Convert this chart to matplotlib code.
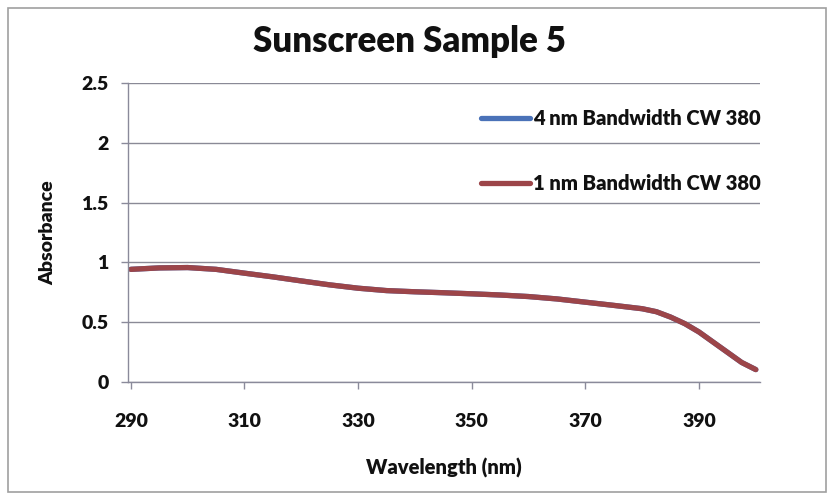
import matplotlib.pyplot as plt
from matplotlib.patches import Rectangle

# absorbance readings
wavelength = [290, 295, 300, 305, 310, 315, 320, 325, 330, 335, 340, 345,
              350, 355, 360, 365, 370, 375, 380, 382.5, 385, 387.5, 390,
              392.5, 395, 397.5, 400]
abs_4nm = [0.94, 0.952, 0.955, 0.94, 0.908, 0.877, 0.843, 0.81, 0.782, 0.762,
           0.752, 0.744, 0.735, 0.725, 0.712, 0.692, 0.665, 0.638, 0.61, 0.585,
           0.54, 0.485, 0.415, 0.33, 0.245, 0.16, 0.1]
abs_1nm = [0.94, 0.952, 0.955, 0.94, 0.908, 0.877, 0.843, 0.81, 0.782, 0.762,
           0.752, 0.744, 0.735, 0.725, 0.712, 0.692, 0.665, 0.638, 0.61, 0.585,
           0.54, 0.485, 0.415, 0.33, 0.245, 0.16, 0.1]
x_ticks = [290, 310, 330, 350, 370, 390]
y_ticks = [0, 0.5, 1, 1.5, 2, 2.5]
y_labels = ['0', '0.5', '1', '1.5', '2', '2.5']

plt.rcParams['font.family'] = ['Lato', 'DejaVu Sans']

fig = plt.figure(figsize=(8.31, 5.04), dpi=100)
ax = fig.add_axes([0.154, 0.243, 0.761, 0.592])

# chart border
fig.patches.append(Rectangle((0.010, 0.024), 0.984, 0.960, transform=fig.transFigure,
                             fill=False, edgecolor='#a0a0a0', linewidth=1.2))

ax.plot(wavelength, abs_4nm, color='#4a72b8', linewidth=3.8, label='4 nm Bandwidth CW 380',
        solid_capstyle='round', solid_joinstyle='round')
ax.plot(wavelength, abs_1nm, color='#9c4549', linewidth=3.8, label='1 nm Bandwidth CW 380',
        solid_capstyle='round', solid_joinstyle='round')

ax.set_xlim(289.5, 400.8)
ax.set_ylim(0, 2.5)
ax.set_xticks(x_ticks)
ax.set_yticks(y_ticks)
ax.set_yticklabels(y_labels)
ax.grid(axis='y', color='#8a8a96', linewidth=1.0)
ax.set_axisbelow(True)

for s in ['top', 'right']:
    ax.spines[s].set_visible(False)
for s in ['left', 'bottom']:
    ax.spines[s].set_color('#8a8a9a')
    ax.spines[s].set_linewidth(1.0)

ax.tick_params(axis='both', colors='#8a8a9a', length=5, width=1.0)
ax.tick_params(axis='x', labelcolor='#111111', labelsize=14, pad=18)
ax.tick_params(axis='y', labelcolor='#111111', labelsize=14, pad=9)
for lab in ax.get_xticklabels() + ax.get_yticklabels():
    lab.set_fontweight('heavy')

ax.set_xlabel('Wavelength (nm)', fontsize=14.5, fontweight='heavy', labelpad=20, color='#111111')
ax.set_ylabel('Absorbance', fontsize=14, fontweight='heavy', labelpad=18, color='#111111')
fig.text(0.493, 0.918, 'Sunscreen Sample 5', ha='center', va='center',
         fontsize=25, fontweight='heavy', color='#111111')

leg = ax.legend(loc='upper left', bbox_to_anchor=(0.53, 0.975), frameon=False,
                fontsize=14.5, handlelength=2.4, handletextpad=0.15, labelspacing=2.3)
for t in leg.get_texts():
    t.set_fontweight('heavy')
    t.set_color('#111111')

fig.savefig('out.png', dpi=100)
